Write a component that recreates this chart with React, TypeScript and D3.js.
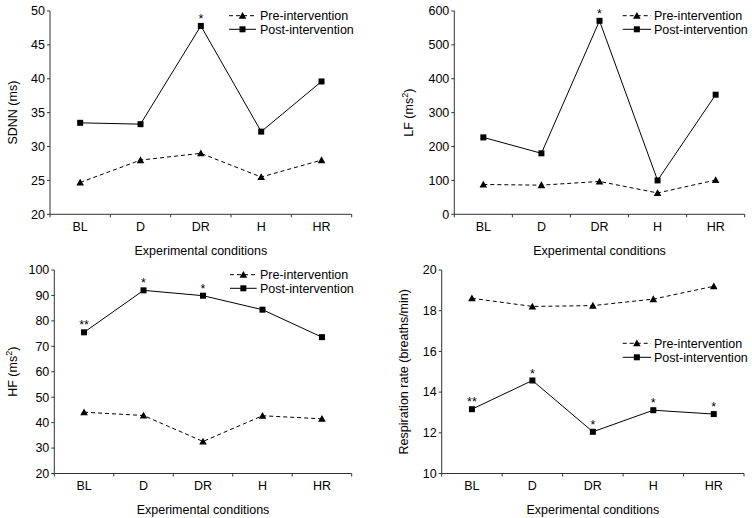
import React from "react";
import * as d3 from "d3";

const categories = ["BL", "D", "DR", "H", "HR"];

const sdnnPre = [24.7, 28.0, 29.0, 25.5, 28.0];
const sdnnPost = [33.5, 33.3, 47.8, 32.2, 39.6];
const sdnnStars = ["", "", "*", "", ""];
const sdnnTicks = [20, 25, 30, 35, 40, 45, 50];

const lfPre = [88, 86, 97, 63, 101];
const lfPost = [227, 180, 571, 100, 353];
const lfStars = ["", "", "*", "", ""];
const lfTicks = [0, 100, 200, 300, 400, 500, 600];

const hfPre = [44.1, 42.8, 32.6, 42.7, 41.5];
const hfPost = [75.5, 92.0, 89.9, 84.4, 73.6];
const hfStars = ["**", "*", "*", "", ""];
const hfTicks = [20, 30, 40, 50, 60, 70, 80, 90, 100];

const rrPre = [18.61, 18.21, 18.25, 18.57, 19.2];
const rrPost = [13.16, 14.57, 12.05, 13.11, 12.92];
const rrStars = ["**", "*", "*", "*", "*"];
const rrTicks = [10, 12, 14, 16, 18, 20];

const legendLabels = ["Pre-intervention", "Post-intervention"];
const xTitle = "Experimental conditions";

const FONT = "'Liberation Sans', Arial, sans-serif";
const AXIS = "#333";
const FS = 12.5;

type PanelProps = {
  xr: [number, number];
  yr: [number, number];
  domain: [number, number];
  ticks: number[];
  pre: number[];
  post: number[];
  stars: string[];
  legend: { x0: number; x1: number; tx: number; y0: number; y1: number };
  yLabel: React.ReactNode;
  yLabelX: number;
};

function Triangle({ x, y }: { x: number; y: number }) {
  const s = 3.8;
  return <path d={`M${x},${y - s}L${x + s},${y + s * 0.8}L${x - s},${y + s * 0.8}Z`} fill="#000" />;
}
function Square({ x, y }: { x: number; y: number }) {
  const s = 3;
  return <rect x={x - s} y={y - s} width={2 * s} height={2 * s} fill="#000" />;
}

function Panel(p: PanelProps) {
  const x = d3.scaleBand<string>().domain(categories).range(p.xr).paddingInner(0).paddingOuter(0);
  const y = d3.scaleLinear().domain(p.domain).range(p.yr);
  const cx = (c: string) => (x(c) as number) + x.bandwidth() / 2;
  const line = d3
    .line<number>()
    .x((_, i) => cx(categories[i]))
    .y((v) => y(v));
  const yBase = p.yr[0];
  const bandEdges = categories.map((c) => x(c) as number).concat([p.xr[1]]);
  const midX = (p.xr[0] + p.xr[1]) / 2;
  const midY = (p.yr[0] + p.yr[1]) / 2;
  const lg = p.legend;
  const lm = (lg.x0 + lg.x1) / 2;
  return (
    <g fontFamily={FONT} fontSize={FS} fill="#000">
      <line x1={p.xr[0]} x2={p.xr[0]} y1={p.yr[1]} y2={yBase} stroke={AXIS} strokeWidth={1} />
      <line x1={p.xr[0]} x2={p.xr[1]} y1={yBase} y2={yBase} stroke={AXIS} strokeWidth={1} />
      {p.ticks.map((t) => (
        <g key={t}>
          <line x1={p.xr[0] - 3} x2={p.xr[0]} y1={y(t)} y2={y(t)} stroke={AXIS} />
          <text x={p.xr[0] - 5} y={y(t)} dy="0.35em" textAnchor="end" fill="#000">
            {t}
          </text>
        </g>
      ))}
      {bandEdges.map((e, i) => (
        <line key={i} x1={e} x2={e} y1={yBase} y2={yBase + 3} stroke={AXIS} />
      ))}
      {categories.map((c) => (
        <text key={c} x={cx(c)} y={yBase + 12} dy="0.35em" textAnchor="middle" fill="#000">
          {c}
        </text>
      ))}
      <text x={midX} y={yBase + 36} dy="0.35em" textAnchor="middle" fill="#000">
        {xTitle}
      </text>
      <text
        transform={`translate(${p.yLabelX},${midY}) rotate(-90)`}
        dy="0.35em"
        textAnchor="middle"
        fill="#000"
      >
        {p.yLabel}
      </text>
      <path d={line(p.pre) || ""} fill="none" stroke="#000" strokeWidth={1} strokeDasharray="4,3" />
      <path d={line(p.post) || ""} fill="none" stroke="#000" strokeWidth={1} />
      {p.pre.map((v, i) => (
        <Triangle key={"t" + i} x={cx(categories[i])} y={y(v)} />
      ))}
      {p.post.map((v, i) => (
        <Square key={"s" + i} x={cx(categories[i])} y={y(v)} />
      ))}
      {p.post.map((v, i) =>
        p.stars[i] ? (
          <text
            key={"st" + i}
            x={cx(categories[i])}
            y={y(v) - 3}
            textAnchor="middle"
            fontSize={12.5}
            fill="#000"
            style={{ fill: "#000" }}
          >
            {p.stars[i]}
          </text>
        ) : null
      )}
      <line x1={lg.x0} x2={lg.x1} y1={lg.y0} y2={lg.y0} stroke="#000" strokeDasharray="4,3" />
      <Triangle x={lm} y={lg.y0} />
      <text x={lg.tx} y={lg.y0} dy="0.35em" fill="#000">
        {legendLabels[0]}
      </text>
      <line x1={lg.x0} x2={lg.x1} y1={lg.y1} y2={lg.y1} stroke="#000" />
      <Square x={lm} y={lg.y1} />
      <text x={lg.tx} y={lg.y1} dy="0.35em" fill="#000">
        {legendLabels[1]}
      </text>
    </g>
  );
}

function Sq({ base }: { base: string }) {
  return (
    <>
      {base} (ms
      <tspan dy="-5" fontSize={9}>
        2
      </tspan>
      <tspan dy="5">)</tspan>
    </>
  );
}

export default function App() {
  return (
    <svg
      width={752}
      height={518}
      viewBox="0 0 752 518"
      style={{ position: "absolute", left: 0, top: 0, background: "#fff" }}
    >
      <rect width={752} height={518} fill="#fff" />
      <Panel
        xr={[50, 351.7]}
        yr={[214.3, 11]}
        domain={[20, 50]}
        ticks={sdnnTicks}
        pre={sdnnPre}
        post={sdnnPost}
        stars={sdnnStars}
        legend={{ x0: 229, x1: 256, tx: 260, y0: 15.7, y1: 29.3 }}
        yLabel="SDNN (ms)"
        yLabelX={13}
      />
      <Panel
        xr={[454.3, 744.7]}
        yr={[214.3, 11]}
        domain={[0, 600]}
        ticks={lfTicks}
        pre={lfPre}
        post={lfPost}
        stars={lfStars}
        legend={{ x0: 622.7, x1: 651, tx: 654, y0: 15.7, y1: 29.3 }}
        yLabel={<Sq base="LF" />}
        yLabelX={409}
      />
      <Panel
        xr={[54.3, 351.7]}
        yr={[473.5, 270]}
        domain={[20, 100]}
        ticks={hfTicks}
        pre={hfPre}
        post={hfPost}
        stars={hfStars}
        legend={{ x0: 230, x1: 256.7, tx: 260, y0: 274.7, y1: 288.3 }}
        yLabel={<Sq base="HF" />}
        yLabelX={13}
      />
      <Panel
        xr={[441.7, 744]}
        yr={[473.5, 270]}
        domain={[10, 20]}
        ticks={rrTicks}
        pre={rrPre}
        post={rrPost}
        stars={rrStars}
        legend={{ x0: 622.7, x1: 651, tx: 654, y0: 343.3, y1: 357.3 }}
        yLabel="Respiration rate (breaths/min)"
        yLabelX={404}
      />
    </svg>
  );
}
